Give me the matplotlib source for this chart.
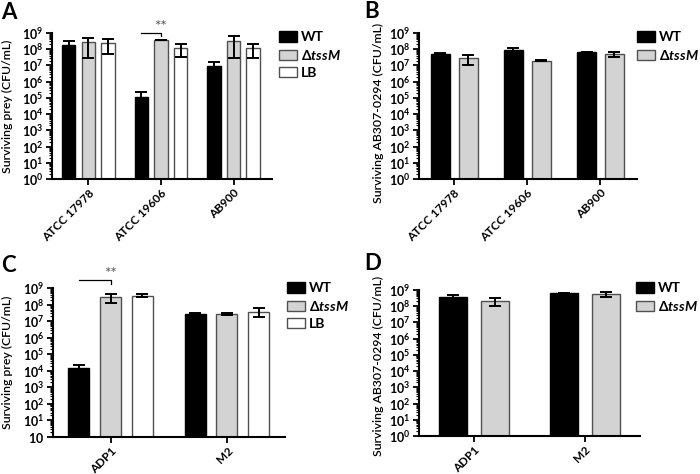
import matplotlib
matplotlib.use("Agg")
import matplotlib.pyplot as plt
import numpy as np
from matplotlib.ticker import LogLocator, NullFormatter

plt.rcParams['font.family'] = ['Lato', 'DejaVu Sans']
plt.rcParams['mathtext.fontset'] = 'custom'
plt.rcParams['mathtext.rm'] = 'Lato:bold'
plt.rcParams['mathtext.bf'] = 'Lato:bold'
plt.rcParams['mathtext.it'] = 'Lato:bold:italic'

# ---- data (CFU/mL, mean and SD) ----
strains_ab = ["ATCC 17978", "ATCC 19606", "AB900"]
strains_cd = ["ADP1", "M2"]
series3 = ["WT", r"$\Delta tssM$", "LB"]
series2 = ["WT", r"$\Delta tssM$"]

a_mean = {"WT": [1.8e8, 1.12e5, 9.0e6],
          "tssM": [2.6e8, 3.8e8, 3.3e8],
          "LB": [2.3e8, 1.26e8, 1.2e8]}
a_sd = {"WT": [1.5e8, 1.2e5, 7.5e6],
        "tssM": [2.3e8, 0.15e8, 3.0e8],
        "LB": [1.8e8, 0.93e8, 0.92e8]}

b_mean = {"WT": [5.0e7, 9.6e7, 6.3e7],
          "tssM": [2.7e7, 1.9e7, 4.9e7]}
b_sd = {"WT": [1.2e7, 1.6e7, 2.0e6],
        "tssM": [1.7e7, 1.2e6, 1.6e7]}

c_mean = {"WT": [1.5e4, 2.7e7],
          "tssM": [2.8e8, 2.6e7],
          "LB": [3.4e8, 3.8e7]}
c_sd = {"WT": [0.8e4, 3.0e6],
        "tssM": [1.5e8, 4.0e6],
        "LB": [0.7e8, 2.0e7]}

d_mean = {"WT": [3.5e8, 6.5e8],
          "tssM": [2.0e8, 5.5e8]}
d_sd = {"WT": [1.5e8, 3.0e7],
        "tssM": [1.0e8, 2.0e8]}

ylabel_prey = "Surviving prey (CFU/mL)"
ylabel_pred = "Surviving AB307-0294 (CFU/mL)"
decades = list(range(0, 10))

W, H = 700, 474
fig = plt.figure(figsize=(W / 100, H / 100), dpi=100)


def rect(l, t, r, b):
    return [l / W, 1 - b / H, (r - l) / W, (b - t) / H]


styles = {"WT": dict(color="black", edgecolor="black"),
          "tssM": dict(color="#d3d3d3", edgecolor="#505050"),
          "LB": dict(color="white", edgecolor="#505050")}


def panel(box, cats, keys, labels, means, sds, width, offsets, xlim,
          ylab, letter, leg_xy, lab_xy, bottom_plain=False):
    ax = fig.add_axes(rect(*box))
    x = np.arange(len(cats))
    handles = []
    for k, off in zip(keys, offsets):
        m = np.array(means[k])
        s = np.array(sds[k])
        h = ax.bar(x + off, m, width, linewidth=1.0, **styles[k])
        handles.append(h)
        lower = np.minimum(s, m * 0.95)
        ax.errorbar(x + off, m, yerr=[lower, s], fmt="none", ecolor="black",
                    elinewidth=1.4, capsize=4.5, capthick=1.4)
    ax.set_yscale("log")
    ax.set_ylim(1, 1e9)
    ax.set_xlim(*xlim)
    ax.set_yticks([10.0 ** d for d in decades])
    ticklabs = [r"$10^{%d}$" % d for d in decades]
    if bottom_plain:
        ticklabs[0] = r"$10$"
    ax.set_yticklabels(ticklabs, fontsize=9)
    ax.yaxis.set_minor_locator(LogLocator(base=10, subs=np.arange(2, 10), numticks=20))
    ax.yaxis.set_minor_formatter(NullFormatter())
    ax.set_xticks(x)
    ax.set_xticklabels(cats, rotation=45, ha="right", rotation_mode="anchor",
                       fontsize=8.5, fontweight="bold")
    for sp in ["top", "right"]:
        ax.spines[sp].set_visible(False)
    for sp in ["left", "bottom"]:
        ax.spines[sp].set_linewidth(1.5)
    ax.tick_params(axis="both", which="major", length=4, width=1.3, pad=2)
    ax.tick_params(axis="y", which="minor", length=2, width=0.8)
    ax.set_ylabel(ylab, fontsize=8.8, fontweight="semibold")
    ax.yaxis.set_label_coords((lab_xy[0] - box[0]) / (box[2] - box[0]),
                              (box[3] - lab_xy[1]) / (box[3] - box[1]))
    ax.legend(handles, labels, loc="upper left",
              bbox_to_anchor=(leg_xy[0] / W, 1 - leg_xy[1] / H),
              bbox_transform=fig.transFigure, frameon=False,
              handlelength=1.3, handleheight=0.8, handletextpad=0.3,
              labelspacing=0.35, borderpad=0, borderaxespad=0,
              prop={"size": 10, "weight": "bold"})
    fig.text(letter[1] / W, 1 - letter[2] / H, letter[0], fontsize=16,
             fontweight="bold", ha="left", va="top")
    return ax


axA = panel((52, 33, 272, 179), strains_ab, ["WT", "tssM", "LB"], series3,
            a_mean, a_sd, 0.186, [-0.27, 0, 0.27], (-0.5, 2.53),
            ylabel_prey, ("A", 1, 2), (279, 31), (13, 106))
axB = panel((419, 33, 637, 179), strains_ab, ["WT", "tssM"], series2,
            b_mean, b_sd, 0.26, [-0.19, 0.19], (-0.48, 2.5),
            ylabel_pred, ("B", 364, 1), (637, 31), (384, 113))
axC = panel((52.5, 288, 285, 437), strains_cd, ["WT", "tssM", "LB"], series3,
            c_mean, c_sd, 0.181, [-0.273, 0, 0.273], (-0.5, 1.5),
            ylabel_prey, ("C", 1, 255), (287, 282), (13, 362), bottom_plain=True)
axD = panel((419, 290, 640, 436), strains_cd, ["WT", "tssM"], series2,
            d_mean, d_sd, 0.25, [-0.19, 0.19], (-0.5, 1.5),
            ylabel_pred, ("D", 364, 253), (636, 282), (384, 366))


def signif(ax, x0, x1, y, drop):
    tr = ax.get_xaxis_transform()
    ax.plot([x0, x1, x1], [y, y, y - drop], color="black", lw=0.9,
            transform=tr, clip_on=False)
    ax.text(x1, y - 0.01, "**", transform=tr, ha="center", va="bottom",
            fontsize=11, color="#555555")


signif(axA, 1 - 0.27, 1, 1.0, 0.02)
signif(axC, -0.273, 0, 1.055, 0.03)

fig.savefig("out.png", dpi=100)
